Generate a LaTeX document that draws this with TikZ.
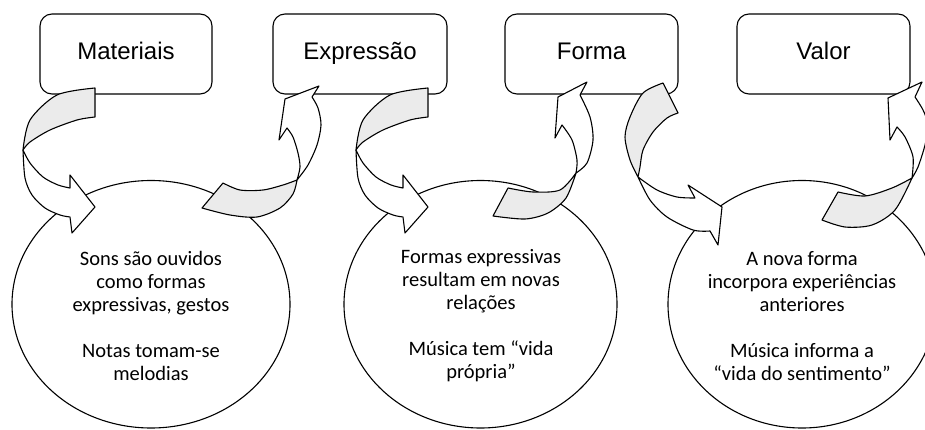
\documentclass[tikz,border=0pt]{standalone}
\usepackage{fontspec}
\setmainfont{Liberation Sans}
\newfontfamily\bodyfont{Carlito}
\usetikzlibrary{shapes.geometric}
\definecolor{ribbon}{HTML}{EBEBEB}
\begin{document}
\begin{tikzpicture}[x=1pt,y=-1pt,
  outline/.style={draw=black, line width=1.1pt, line join=round},
  labelbox/.style={outline, rounded corners=12pt, minimum height=80pt, fill=white, inner sep=0pt,
    font=\fontsize{24}{28}\selectfont, text height=12pt, text depth=0pt},
  stage/.style={outline, ellipse, fill=white, inner sep=0pt, minimum height=247.5pt},
  stagetext/.style={font=\bodyfont\fontsize{20.5}{23}\selectfont, align=center, inner sep=0pt},
  ribbonback/.style={outline, fill=ribbon},
  ribbonfront/.style={outline, fill=white}]
\useasboundingbox (0,0) rectangle (925,430);
\clip (0,0) rectangle (925,430);
\fill[white] (0,0) rectangle (925,430);

% boxes
\node[labelbox, minimum width=172pt] (b1) at (126,54) {Materiais};
\node[labelbox, minimum width=174pt] (b2) at (360,54) {Expressão};
\node[labelbox, minimum width=173pt] (b3) at (591.5,54) {Forma};
\node[labelbox, minimum width=173pt] (b4) at (823.5,54) {Valor};

% circles
\node[stage, minimum width=278pt] (c1) at (151,304.25) {};
\node[stage, minimum width=273pt] (c2) at (480.5,304.25) {};
\node[stage, minimum width=268pt] (c3) at (802,304.25) {};

% arrow: Materiais -> circle 1 (and shifted copy for Expressao -> circle 2)
\foreach \dx in {0,333}{
\begin{scope}[shift={(\dx,0)}]
\filldraw[ribbonback] plot[smooth] coordinates {(95,88) (57,95) (30,120) (23,150)}
  -- plot[smooth] coordinates {(23,150) (30,142) (50,130) (77,120) (95,117)} -- cycle;
\filldraw[ribbonfront] plot[smooth] coordinates {(23,150) (25,178) (32,195) (45,208) (60,215) (70,217)}
  -- (72,233) -- (95,207) -- (70,175) -- (70,188)
  -- plot[smooth] coordinates {(70,188) (58,185) (43,177) (30,163) (23,150)} -- cycle;
\end{scope}}

% arrow: Forma -> circle 3
\filldraw[ribbonback] plot[smooth] coordinates {(663,83) (643,93) (630,117) (625,137) (630,160) (638,177)}
  -- plot[smooth] coordinates {(638,177) (640,167) (643,150) (653,132) (667,118) (678,113)} -- cycle;
\filldraw[ribbonfront] plot[smooth] coordinates {(638,177) (650,200) (667,217) (693,230) (710,231)}
  -- (718,245) -- (722,207) -- (688,185) -- (695,198)
  -- plot[smooth] coordinates {(695,198) (677,197) (657,190) (638,177)} -- cycle;

% arrow: circle 1 -> Expressao
\filldraw[ribbonback] (202,208) -- plot[smooth] coordinates {(223,183) (240,190) (263,190) (283,185) (297,180)}
  -- plot[smooth] coordinates {(297,180) (293,194) (280,208) (257,217) (230,215) (202,208)} -- cycle;
\filldraw[ribbonfront] plot[smooth] coordinates {(297,180) (308,165) (317,145) (321,125) (318,108) (312,97)}
  -- (319,86) -- (285,99) -- (279,140) -- (287,128)
  -- plot[smooth] coordinates {(287,128) (293,137) (298,153) (300,167) (297,180)} -- cycle;

% arrow: circle 2 -> Forma
\filldraw[ribbonback] (493,216) -- plot[smooth] coordinates {(508,188) (533,192) (560,190) (576,173)}
  -- plot[smooth] coordinates {(576,173) (566,198) (548,213) (525,219) (493,216)} -- cycle;
\filldraw[ribbonfront] plot[smooth] coordinates {(576,173) (587,163) (593,140) (590,117) (580,95)}
  -- (587,82) -- (558,97) -- (555,138) -- (562,125)
  -- plot[smooth] coordinates {(562,125) (572,140) (577,160) (576,173)} -- cycle;

% arrow: circle 3 -> Valor
\filldraw[ribbonback] (822,220) -- plot[smooth] coordinates {(838,192) (865,196) (892,188) (912,178)}
  -- plot[smooth] coordinates {(912,178) (895,210) (872,225) (845,227) (822,220)} -- cycle;
\filldraw[ribbonfront] plot[smooth] coordinates {(912,178) (918,167) (925,145) (928,125) (923,110) (915,97)}
  -- (922,82) -- (888,98) -- (890,140) -- (897,127)
  -- plot[smooth] coordinates {(897,127) (905,137) (913,157) (912,178)} -- cycle;

% circle texts
\node[stagetext] (t1) at (151,316) {Sons são ouvidos\\como formas\\expressivas, gestos\\[23pt]Notas tomam-se\\melodias};
\node[stagetext] (t2) at (481,316) {Formas expressivas\\resultam em novas\\relações\\[23pt]Música tem “vida\\própria”};
\node[stagetext] (t3) at (802,316) {A nova forma\\incorpora experiências\\anteriores\\[23pt]Música informa a\\“vida do sentimento”};
\end{tikzpicture}
\end{document}
